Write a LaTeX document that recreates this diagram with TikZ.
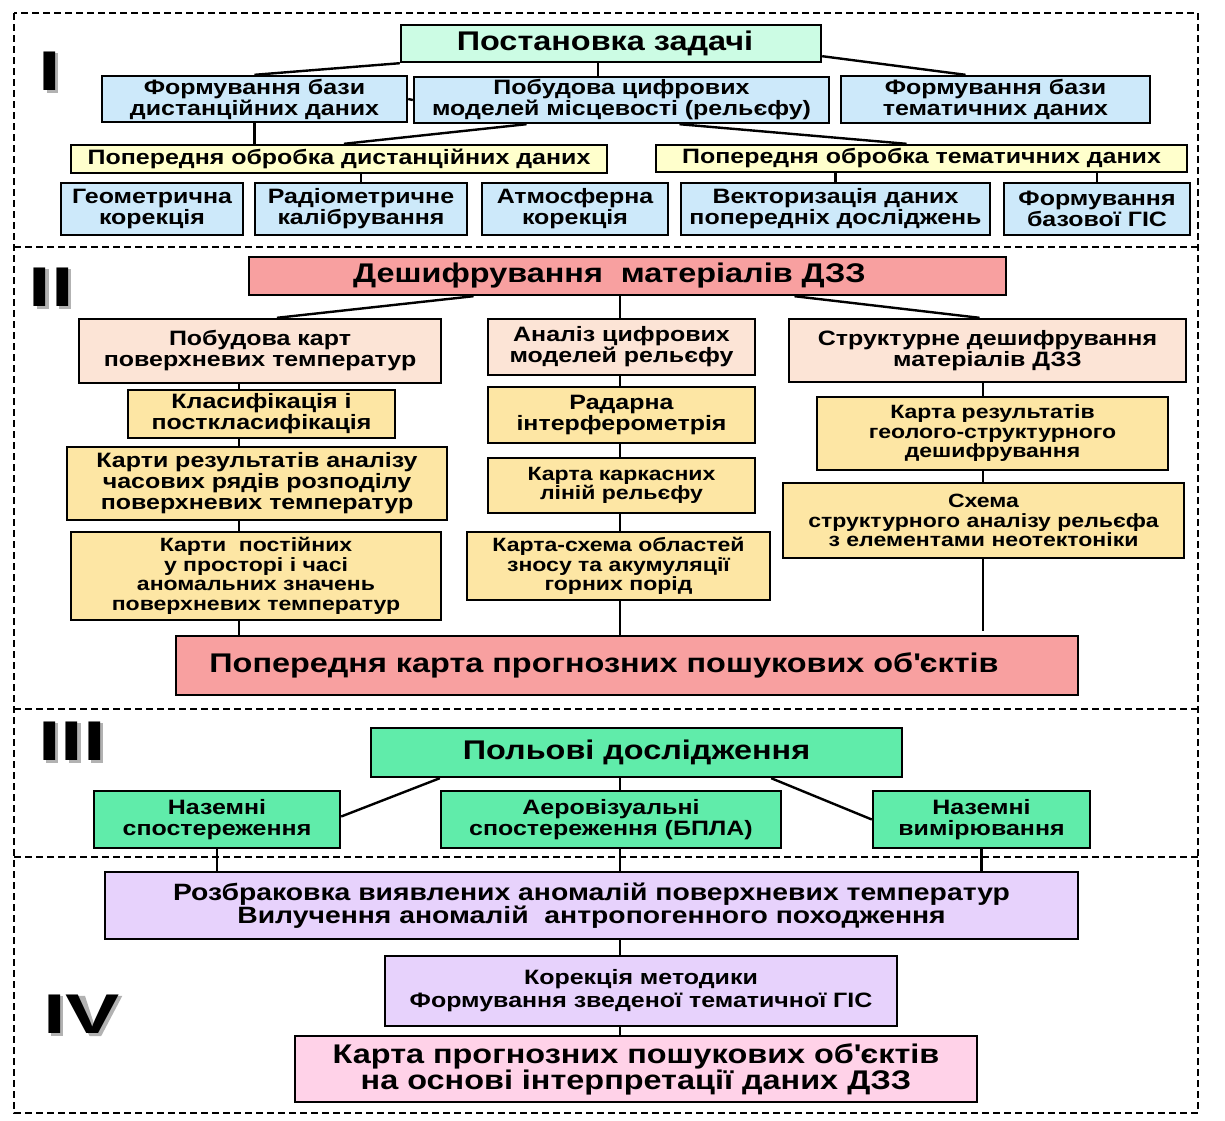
\documentclass[tikz,border=0pt]{standalone}
\usepackage{fontspec}
\setmainfont{Liberation Sans}[FakeStretch=1.2]
\newfontfamily\numeralfont{Liberation Sans}[FakeStretch=1.45]
\usepackage{tikz}
\usetikzlibrary{calc}
\definecolor{taskmint}{RGB}{204,252,228}
\definecolor{prepblue}{RGB}{205,233,250}
\definecolor{prepyellow}{RGB}{255,255,204}
\definecolor{decodered}{RGB}{248,160,160}
\definecolor{mappeach}{RGB}{252,228,214}
\definecolor{mapsand}{RGB}{253,230,164}
\definecolor{fieldgreen}{RGB}{96,236,170}
\definecolor{checklilac}{RGB}{231,210,252}
\definecolor{finalpink}{RGB}{255,210,232}

\begin{document}
\begin{tikzpicture}[
  x=1pt, y=-1pt,
  box/.style={draw=black, line width=2.4pt, inner sep=0pt, align=center, font=\bfseries\fontsize{20.8}{21}\selectfont},
  bigbox/.style={box, font=\bfseries\fontsize{27}{26}\selectfont},
  midbox/.style={box, font=\bfseries\fontsize{23.6}{23}\selectfont},
  smallbox/.style={box, font=\bfseries\fontsize{19.2}{19.5}\selectfont},
  link/.style={line width=2.4pt},
  frame/.style={line width=1.1pt, dash pattern=on 7pt off 4pt},
  roman/.style={anchor=base west, inner sep=0pt, font=\numeralfont\bfseries\fontsize{56}{56}\selectfont},
  numshade/.style={fill=black!30}
]
  \useasboundingbox (0,0) rectangle (1225,1120);

  % stage frames
  \draw[frame] (14,13) rectangle (1198,1113);
  \draw[frame] (14,247) -- (1198,247);
  \draw[frame] (14,709) -- (1198,709);
  \draw[frame] (14,857) -- (1198,857);

  % stage numbers, grey shadow first
  \coordinate (numIb) at (38.3,90);
  \coordinate (numIIb) at (28.4,306);
  \coordinate (numIIIb) at (37.8,760);
  \coordinate (numIVb) at (42.8,1033);
  \fill[numshade] ($(numIb)+(8.2,3)$) rectangle ($(numIb)+(20.1,-37.1)$);
  \foreach \k in {0,1}
    \fill[numshade] ($(numIIb)+(\k*22.6+8.2,3)$) rectangle ($(numIIb)+(\k*22.6+20.1,-37.1)$);
  \foreach \k in {0,1,2}
    \fill[numshade] ($(numIIIb)+(\k*22.6+8.2,3)$) rectangle ($(numIIIb)+(\k*22.6+20.1,-37.1)$);
  \fill[numshade] ($(numIVb)+(8.2,3)$) rectangle ($(numIVb)+(20.1,-37.1)$);
  \fill[numshade] ($(numIVb)+(22.6+21.2+3,3)$) -- ($(numIVb)+(22.6+32.8+3,3)$)
    -- ($(numIVb)+(22.6+53.9+3,-37.1)$) -- ($(numIVb)+(22.6+37.8+3,-37.1)$)
    -- ($(numIVb)+(22.6+27.1+3,-4.5)$) -- ($(numIVb)+(22.6+16.6+3,-37.1)$)
    -- ($(numIVb)+(22.6+0.2+3,-37.1)$) -- cycle;
  \node[roman] (numI) at (numIb) {I};
  \node[roman] (numII) at (numIIb) {II};
  \node[roman] (numIII) at (numIIIb) {III};
  \node[roman] (numIV) at (numIVb) {IV};

  \coordinate (colA) at (239,0);
  \coordinate (colB) at (620,0);
  \coordinate (colC) at (983,0);
  \coordinate (colT) at (598,0);

  % I
  \node[bigbox, fill=taskmint, minimum width=420pt, minimum height=37pt] (task) at (611,43.5) {Постановка задачі\hspace*{12pt}};
  \node[box, fill=prepblue, minimum width=305pt, minimum height=46pt] (bdist) at (254.5,99) {Формування бази\\дистанційних даних};
  \node[box, fill=prepblue, minimum width=415pt, minimum height=46pt] (dem) at (621.5,100) {Побудова цифрових\\моделей місцевості (рельєфу)};
  \node[box, fill=prepblue, minimum width=309pt, minimum height=47pt] (btem) at (995.5,99.5) {Формування бази\\тематичних даних};
  \node[box, fill=prepyellow, minimum width=536pt, minimum height=28pt] (pdist) at (339,159) {Попередня обробка дистанційних даних};
  \node[box, fill=prepyellow, minimum width=531pt, minimum height=27pt] (ptem) at (921.5,158.5) {Попередня обробка тематичних даних};
  \node[box, fill=prepblue, minimum width=182pt, minimum height=52pt] (geo) at (152,209) {Геометрична\\корекція};
  \node[box, fill=prepblue, minimum width=212pt, minimum height=52pt] (rad) at (361,209) {Радіометричне\\калібрування};
  \node[box, fill=prepblue, minimum width=186pt, minimum height=52pt] (atm) at (575,209) {Атмосферна\\корекція};
  \node[box, fill=prepblue, minimum width=309pt, minimum height=52pt] (vect) at (835.5,209) {Векторизація даних\\попередніх досліджень};
  \node[box, fill=prepblue, minimum width=186pt, minimum height=52pt] (bgis) at (1097,209) {Формування\\базової ГІС};

  \draw[link] (task.south west) -- (bdist.north);
  \draw[link] (task.south -| colT) -- (dem.north -| colT);
  \draw[link] ($(task.south east)+(0,-7)$) -- ($(btem.north)+(-30,0)$);
  \draw[link] (bdist.east) -- (dem.west);
  \draw[link] (bdist.south) -- (bdist.south |- pdist.north);
  \draw[link] ($(dem.south)+(-95,0)$) -- ($(pdist.north)+(5,0)$);
  \draw[link] ($(dem.south)+(58,0)$) -- ($(ptem.north)+(-15,0)$);
  \draw[link] ($(btem.south)+(-22,0)$) -- ($(btem.south)+(-22,0)$ |- ptem.north);
  \draw[link] ($(geo.north)+(7,0)$) -- ($(geo.north)+(7,0)$ |- pdist.south);
  \draw[link] (rad.north) -- (rad.north |- pdist.south);
  \draw[link] ($(atm.north)+(-18,0)$) -- ($(atm.north)+(-18,0)$ |- pdist.south);
  \foreach \leaf in {vect, bgis} {
    \draw[link] (\leaf.north) -- (\leaf.north |- ptem.south);
  }

  % II
  \node[bigbox, fill=decodered, minimum width=757pt, minimum height=38pt] (decode) at (627.5,276) {Дешифрування\ \ матеріалів ДЗЗ\hspace*{36pt}};
  \node[box, fill=mappeach, minimum width=362pt, minimum height=64pt] (tmap) at (260,351) {Побудова карт\\поверхневих температур};
  \node[box, fill=mapsand, minimum width=267pt, minimum height=48pt] (cls) at (261.5,414) {Класифікація і\\посткласифікація};
  \node[box, fill=mapsand, minimum width=380pt, minimum height=73pt] (tser) at (257,483.5) {Карти результатів аналізу\\часових рядів розподілу\\поверхневих температур};
  \node[smallbox, fill=mapsand, minimum width=370pt, minimum height=88pt] (tconst) at (256,576) {Карти\ \ постійних\\у просторі і часі\\аномальних значень\\поверхневих температур};
  \node[box, fill=mappeach, minimum width=267pt, minimum height=56pt] (dema) at (621.5,347) {Аналіз цифрових\\моделей рельєфу};
  \node[box, fill=mapsand, minimum width=267pt, minimum height=56pt] (radar) at (621.5,415) {Радарна\\інтерферометрія};
  \node[smallbox, fill=mapsand, minimum width=267pt, minimum height=55pt] (skel) at (621.5,485.5) {Карта каркасних\\ліній рельєфу};
  \node[smallbox, fill=mapsand, minimum width=303pt, minimum height=68pt] (eros) at (618.5,566) {Карта-схема областей\\зносу та акумуляції\\горних порід};
  \node[box, fill=mappeach, minimum width=397pt, minimum height=63pt] (struct) at (987.5,350.5) {Структурне дешифрування\\матеріалів ДЗЗ};
  \node[smallbox, fill=mapsand, minimum width=351pt, minimum height=73pt] (geol) at (992.5,433.5) {Карта результатів\\геолого-структурного\\дешифрування};
  \node[smallbox, fill=mapsand, minimum width=401pt, minimum height=75pt] (neotec) at (983.5,520.5) {Схема\\структурного аналізу рельєфа\\з елементами неотектоніки};
  \node[bigbox, fill=decodered, minimum width=902pt, minimum height=59pt] (prelim) at (627,665.5) {Попередня карта прогнозних пошукових об\textquotesingle єктів\hspace*{46pt}};

  \draw[link] ($(decode.south)+(-154,0)$) -- ($(tmap.north)+(17,0)$);
  \draw[link] (decode.south -| colB) -- (dema.north -| colB);
  \draw[link] ($(decode.south)+(167,0)$) -- ($(struct.north)+(-8,0)$);
  \draw[link] (tmap.south -| colA) -- (cls.north -| colA);
  \draw[link] (cls.south -| colA) -- (tser.north -| colA);
  \draw[link] (tser.south -| colA) -- (tconst.north -| colA);
  \draw[link] (tconst.south -| colA) -- (prelim.north -| colA);
  \draw[link] (dema.south -| colB) -- (radar.north -| colB);
  \draw[link] (radar.south -| colB) -- (skel.north -| colB);
  \draw[link] (skel.south -| colB) -- (eros.north -| colB);
  \draw[link] (eros.south -| colB) -- (prelim.north -| colB);
  \draw[link] (struct.south -| colC) -- (geol.north -| colC);
  \draw[link] (geol.south -| colC) -- (neotec.north -| colC);
  \draw[link] (neotec.south -| colC) -- ($(prelim.north -| colC)+(0,-4)$);

  % III
  \node[bigbox, fill=fieldgreen, minimum width=531pt, minimum height=49pt] (field) at (636.5,752.5) {Польові дослідження};
  \node[box, fill=fieldgreen, minimum width=246pt, minimum height=57pt] (gobs) at (217,819.5) {Наземні\\спостереження};
  \node[box, fill=fieldgreen, minimum width=340pt, minimum height=57pt] (aero) at (611,819.5) {Аеровізуальні\\спостереження (БПЛА)};
  \node[box, fill=fieldgreen, minimum width=217pt, minimum height=57pt] (gmeas) at (981.5,819.5) {Наземні\\вимірювання};

  \draw[link] ($(field.south west)+(70,0)$) -- ($(gobs.east)+(0,-3)$);
  \draw[link] (field.south -| colB) -- (aero.north -| colB);
  \draw[link] ($(field.south east)+(-132,0)$) -- (gmeas.west);

  % IV
  \node[midbox, fill=checklilac, minimum width=973pt, minimum height=67pt] (reject) at (591.5,905.5) {Розбраковка виявлених аномалій поверхневих температур\\Вилучення аномалій\ \ антропогенного походження};
  \node[box, fill=checklilac, minimum width=512pt, minimum height=70pt] (corr) at (641,991) {Корекція методики\\[2pt]Формування зведеної тематичної ГІС};
  \node[bigbox, fill=finalpink, minimum width=682pt, minimum height=66pt] (final) at (636,1069) {Карта прогнозних пошукових об\textquotesingle єктів\\на основі інтерпретації даних ДЗЗ};

  \draw[link] (gobs.south) -- (gobs.south |- reject.north);
  \draw[link] (aero.south -| colB) -- (reject.north -| colB);
  \draw[link] (gmeas.south) -- (gmeas.south |- reject.north);
  \draw[link] (reject.south -| colB) -- (corr.north -| colB);
  \draw[link] (corr.south -| colB) -- (final.north -| colB);
\end{tikzpicture}
\end{document}
